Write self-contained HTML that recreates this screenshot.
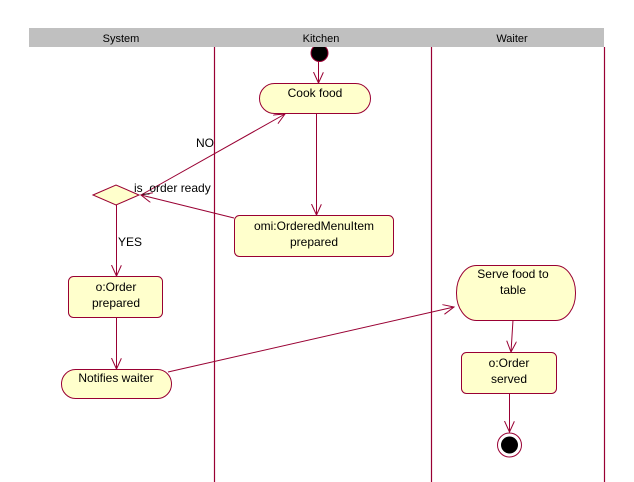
<!DOCTYPE html>
<html><head><meta charset="utf-8"><style>
html,body{margin:0;padding:0;background:#fff;}
svg{display:block;}
text{font-family:"Liberation Sans",Arial,sans-serif;fill:#000;}
</style></head><body>
<svg width="634" height="482" viewBox="0 0 634 482" xmlns="http://www.w3.org/2000/svg">
<defs>
<marker id="a" markerUnits="userSpaceOnUse" markerWidth="14" markerHeight="12" refX="11" refY="5" orient="auto">
<path d="M0,0 L11,5 L0,10" fill="none" stroke="#990033" stroke-width="1"/>
</marker>
</defs>
<rect x="0" y="0" width="634" height="482" fill="#fff"/>
<!-- start node -->
<circle cx="319.5" cy="53" r="8.5" fill="#000" stroke="#990033" stroke-width="1"/>
<!-- header -->
<rect x="29" y="28" width="575" height="19" fill="#c0c0c0"/>
<text x="121" y="42" font-size="11" text-anchor="middle">System</text>
<text x="321" y="42" font-size="11" text-anchor="middle">Kitchen</text>
<text x="512" y="42" font-size="11" text-anchor="middle">Waiter</text>
<!-- lane lines -->
<g stroke="#990033" stroke-width="1.2">
<line x1="214.5" y1="47" x2="214.5" y2="482"/>
<line x1="431.5" y1="47" x2="431.5" y2="482"/>
<line x1="604.5" y1="47" x2="604.5" y2="482"/>
</g>
<!-- edges -->
<g stroke="#990033" stroke-width="1" fill="none" marker-end="url(#a)">
<line x1="318.5" y1="61" x2="318.5" y2="83"/>
<line x1="316.5" y1="114" x2="316.5" y2="215"/>
<line x1="234" y1="218" x2="141" y2="195"/>
<line x1="141" y1="195" x2="285" y2="114"/>
<line x1="116.5" y1="205" x2="116.5" y2="276"/>
<line x1="116.5" y1="318" x2="116.5" y2="369"/>
<line x1="168" y1="372" x2="454" y2="307"/>
<line x1="513" y1="320" x2="511" y2="352"/>
<line x1="509.5" y1="394" x2="509.5" y2="432"/>
</g>
<!-- nodes -->
<g stroke="#990033" stroke-width="1" fill="#ffffcc">
<rect x="259.5" y="83.5" width="111" height="30" rx="15" ry="15"/>
<rect x="234.5" y="215.5" width="159" height="41" rx="5" ry="5"/>
<polygon points="93,195 116,185 139,195 116,205"/>
<rect x="68.5" y="276.5" width="94" height="41" rx="5" ry="5"/>
<rect x="61.5" y="369.5" width="110" height="29" rx="14" ry="14.5"/>
<rect x="456.5" y="265.5" width="119" height="55" rx="20" ry="27"/>
<rect x="461.5" y="352.5" width="95" height="41" rx="5" ry="5"/>
</g>
<!-- end node -->
<circle cx="509.5" cy="445" r="12" fill="#fff" stroke="#990033" stroke-width="1"/>
<circle cx="509.5" cy="445" r="8.5" fill="#000"/>
<!-- labels -->
<g font-size="12" text-anchor="middle">
<text x="315" y="97">Cook food</text>
<text x="314" y="230">omi:OrderedMenuItem</text>
<text x="314" y="246">prepared</text>
<text x="116" y="291">o:Order</text>
<text x="116" y="307">prepared</text>
<text x="116" y="382">Notifies waiter</text>
<text x="513" y="278">Serve food to</text>
<text x="513" y="294">table</text>
<text x="509" y="367">o:Order</text>
<text x="509" y="383">served</text>
</g>
<g font-size="12">
<text x="134" y="192">is_order ready</text>
<text x="196" y="147">NO</text>
<text x="118" y="246">YES</text>
</g>
</svg>
</body></html>
